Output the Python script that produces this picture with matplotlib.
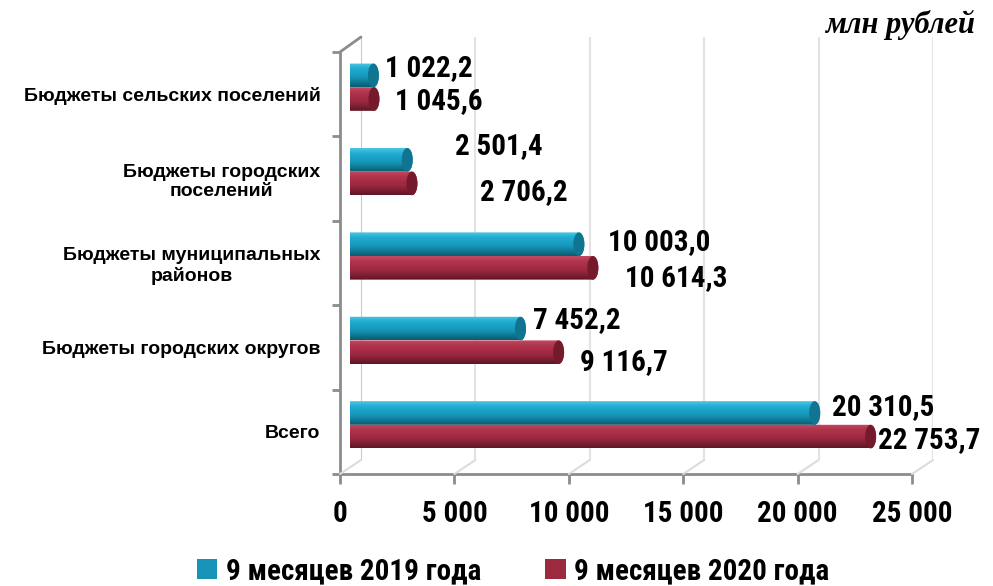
import os
import numpy as np
import matplotlib
matplotlib.use("Agg")
import matplotlib.pyplot as plt
import matplotlib.font_manager as fm
from matplotlib.path import Path
from matplotlib.patches import PathPatch, Ellipse, Patch, ConnectionPatch
from matplotlib.colors import to_rgb

# ---------------- data ----------------
categories = ["Всего", "Бюджеты городских округов", "Бюджеты муниципальных\nрайонов",
              "Бюджеты городских\nпоселений", "Бюджеты сельских поселений"]
values_2019 = [20310.5, 7452.2, 10003.0, 2501.4, 1022.2]
values_2020 = [22753.7, 9116.7, 10614.3, 2706.2, 1045.6]
labels_2019 = ["20 310,5", "7 452,2", "10 003,0", "2 501,4", "1 022,2"]
labels_2020 = ["22 753,7", "9 116,7", "10 614,3", "2 706,2", "1 045,6"]
series_names = ["9 месяцев 2019 года", "9 месяцев 2020 года"]
xticks = [0, 5000, 10000, 15000, 20000, 25000]
xtick_labels = ["0", "5 000", "10 000", "15 000", "20 000", "25 000"]
unit_label = "млн рублей"

# label offsets (pixels) relative to bar end
off_2019 = [(17, 6), (12, 9), (29, 2), (48, 14), (12, 7)]
off_2020 = [(7, -3), (21, -10), (32, -10), (68, -9), (21, -2)]

# ---------------- fonts ----------------
narrow_path = None
wanted = ["LiberationSansNarrow-Bold.", "ArialNarrowBold", "Arial Narrow Bold", "ARIALNB",
          "RobotoCondensed-Bold.", "OpenSans_Condensed-Bold", "OpenSansCondensed-Bold",
          "DejaVuSansCondensed-Bold."]
all_files = [f.fname for f in fm.fontManager.ttflist]
for w in wanted:
    for p in all_files:
        if w.lower() in os.path.basename(p).lower():
            narrow_path = p
            break
    if narrow_path:
        break

if narrow_path:
    num_fp = lambda size: fm.FontProperties(fname=narrow_path, size=size)
    NUM_SIZE = 21
    if "DejaVu" in narrow_path:
        NUM_SIZE = 18
else:
    num_fp = lambda size: fm.FontProperties(family=["Liberation Sans", "DejaVu Sans"],
                                            weight="bold", size=size)
    NUM_SIZE = 19

SANS = ["Liberation Sans", "DejaVu Sans"]

W, H = 993, 586
fig = plt.figure(figsize=(W / 100, H / 100), dpi=100)
fig.patch.set_facecolor("white")


def px_axes(left, right, top, bottom):
    return fig.add_axes([left / W, 1 - bottom / H, (right - left) / W, (bottom - top) / H])


XMAX = 25000
YLIM = (-0.5, 4.5)

ax_back = px_axes(361, 933, 37, 460)
ax = px_axes(350, 922, 45, 467)
ax_front = px_axes(340, 912, 52, 474)
for a in (ax_back, ax, ax_front):
    a.set_xlim(0, XMAX)
    a.set_ylim(*YLIM)
    a.patch.set_visible(False)
ax_back.axis("off")
ax.axis("off")

# back wall gridlines
for x in xticks:
    ax_back.plot([x, x], list(YLIM), color="#C8C8C8" if x == 0 else "#E3E3E3",
                 lw=1.5, solid_capstyle="butt")

# floor diagonals
for x in xticks:
    fig.add_artist(ConnectionPatch(xyA=(x, YLIM[0]), coordsA=ax_front.transData,
                                   xyB=(x, YLIM[0]), coordsB=ax_back.transData,
                                   color="#DCDCDC", lw=1.5))
fig.add_artist(ConnectionPatch(xyA=(0, YLIM[1]), coordsA=ax_front.transData,
                               xyB=(0, YLIM[1]), coordsB=ax_back.transData,
                               color="#8C8C8C", lw=2))

# cylinders
blue_grad = ["#4CC6E4", "#22AED3", "#1AA2C6", "#1695B7", "#0F7892", "#0A5C70"]
red_grad = ["#C24A62", "#B1374F", "#A82D46", "#9B2840", "#7E1F33", "#5E1624"]
blue_cap = "#0F7590"
red_cap = "#751A2D"

cap_w = XMAX * 11 / 572.0
bh = 0.28


def cylinder(a, val, yc, grad, cap):
    y0, y1 = yc - bh / 2, yc + bh / 2
    t = np.linspace(-np.pi / 2, np.pi / 2, 40)
    rx = cap_w / 2
    ry = bh / 2
    right = np.column_stack([val + rx * np.cos(t), yc + ry * np.sin(t)])
    left = np.column_stack([0 - rx * np.cos(t[::-1]), yc + ry * np.sin(t[::-1])])
    pts = np.vstack([right, left, right[:1]])
    clip = PathPatch(Path(pts), transform=a.transData, facecolor="none", edgecolor="none")
    a.add_patch(clip)
    cols = np.array([to_rgb(c) for c in grad])
    xs = np.linspace(0, 1, len(cols))
    xi = np.linspace(0, 1, 60)
    img = np.stack([np.interp(xi, xs, cols[:, k]) for k in range(3)], axis=1)[:, None, :]
    im = a.imshow(img, extent=(-rx, val + rx, y0, y1), aspect="auto",
                  interpolation="bilinear", origin="upper", zorder=2)
    im.set_clip_path(clip)
    a.add_patch(Ellipse((val, yc), cap_w, bh, facecolor=cap, edgecolor="none", zorder=3))


for i in range(len(categories)):
    cylinder(ax, values_2019[i], i + 0.14, blue_grad, blue_cap)
    cylinder(ax, values_2020[i], i - 0.14, red_grad, red_cap)
    ax.annotate(labels_2019[i], (values_2019[i], i + 0.14), xytext=off_2019[i],
                textcoords="offset pixels", ha="left", va="center",
                fontproperties=num_fp(NUM_SIZE), annotation_clip=False)
    ax.annotate(labels_2020[i], (values_2020[i], i - 0.14), xytext=off_2020[i],
                textcoords="offset pixels", ha="left", va="center",
                fontproperties=num_fp(NUM_SIZE), annotation_clip=False)
ax.set_xlim(0, XMAX)
ax.set_ylim(*YLIM)

# front axes
for s in ("top", "right"):
    ax_front.spines[s].set_visible(False)
for s in ("left", "bottom"):
    ax_front.spines[s].set_color("#8C8C8C")
    ax_front.spines[s].set_linewidth(2)
ax_front.set_xticks(xticks)
ax_front.set_xticklabels(xtick_labels)
for t in ax_front.get_xticklabels():
    t.set_fontproperties(num_fp(NUM_SIZE))
ax_front.tick_params(axis="x", direction="out", length=7, width=2, color="#8C8C8C", pad=12)
ax_front.set_yticks(np.arange(-0.5, 5, 1.0))
ax_front.set_yticklabels([])
ax_front.tick_params(axis="y", which="major", direction="out", length=6, width=2, color="#8C8C8C")
ax_front.set_yticks(np.arange(len(categories)), minor=True)
ax_front.set_yticklabels(categories, minor=True, fontsize=14, fontweight="bold",
                         family=SANS, multialignment="center")
ax_front.tick_params(axis="y", which="minor", length=0, pad=14)

# unit label
fig.text(975 / W, 1 - 25 / H, unit_label, ha="right", va="center", fontsize=22,
         fontweight="bold", style="italic", family=["Liberation Serif", "DejaVu Serif"])

# legend
handles = [Patch(facecolor="#1793B8", edgecolor="none"), Patch(facecolor="#9B2A3E", edgecolor="none")]
leg_fp = num_fp(NUM_SIZE)
fig.legend(handles, series_names, loc="center", bbox_to_anchor=(513 / W, 1 - 571 / H),
           ncol=2, frameon=False, handlelength=0.7, handleheight=0.7, handletextpad=0.3,
           columnspacing=2.2, prop=leg_fp)

fig.savefig("out.png", dpi=100, facecolor="white")
